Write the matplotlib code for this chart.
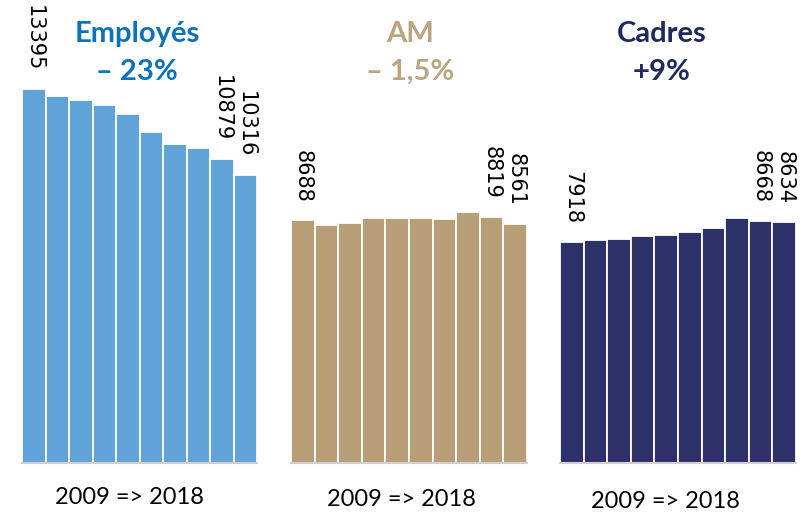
import matplotlib
matplotlib.use("Agg")
import matplotlib.pyplot as plt

# data, 2009 -> 2018
years = list(range(2009, 2019))
employes = [13395, 13155, 12990, 12811, 12489, 11855, 11436, 11282, 10879, 10316]
am = [8688, 8520, 8606, 8760, 8760, 8785, 8735, 8985, 8819, 8561]
cadres = [7918, 7975, 8036, 8118, 8168, 8276, 8420, 8763, 8668, 8634]

groups = ["Employés", "AM", "Cadres"]
changes = ["– 23%", "– 1,5%", "+9%"]
period = "2009 => 2018"

bar_colors = ["#5fa3d8", "#b89e76", "#2e3069"]
title_colors = ["#0b72be", "#bba47f", "#1f2a5e"]

W, H = 802, 517
fig = plt.figure(figsize=(W / 100, H / 100), dpi=100)

# axes placement in pixels (left, right)
spans = [(22, 257), (291, 527), (560, 796)]
base_px = 463
px_per_unit = 0.02792
ymax = base_px / px_per_unit

title_x = [137, 410, 662]
period_y = [497, 500, 502]
period_x = [129, 401, 665]

for k, vals in enumerate([employes, am, cadres]):
    l, r = spans[k]
    ax = fig.add_axes([l / W, 1 - base_px / H, (r - l) / W, base_px / H])
    xs = list(range(len(vals)))
    ax.bar(xs, vals, width=1.0, color=bar_colors[k],
           edgecolor="white", linewidth=1.3)
    ax.set_xlim(-0.5, len(vals) - 0.5)
    ax.set_ylim(0, ymax)
    for s in ["top", "right", "left"]:
        ax.spines[s].set_visible(False)
    ax.spines["bottom"].set_color("#cfcfcf")
    ax.spines["bottom"].set_linewidth(1.5)
    ax.set_xticks([])
    ax.set_yticks([])
    ax.patch.set_alpha(0)
    # labels on first and last two bars
    for i in [0, len(vals) - 2, len(vals) - 1]:
        ax.annotate(str(vals[i]), (xs[i], vals[i]), xytext=(0, 13),
                    textcoords="offset points", rotation=-90,
                    ha="center", va="bottom", fontsize=15, color="black")

    fig.text(title_x[k] / W, 1 - 34 / H, groups[k], ha="center", va="center",
             fontsize=21, fontweight="bold", color=title_colors[k],
             family=["Lato", "DejaVu Sans"])
    fig.text(title_x[k] / W, 1 - 72 / H, changes[k], ha="center", va="center",
             fontsize=21, fontweight="bold", color=title_colors[k],
             family=["Lato", "DejaVu Sans"])
    fig.text(period_x[k] / W, 1 - period_y[k] / H, period, ha="center",
             va="center", fontsize=17, color="black",
             family=["Lato", "DejaVu Sans"])

fig.savefig("out.png", dpi=100, facecolor="white")
